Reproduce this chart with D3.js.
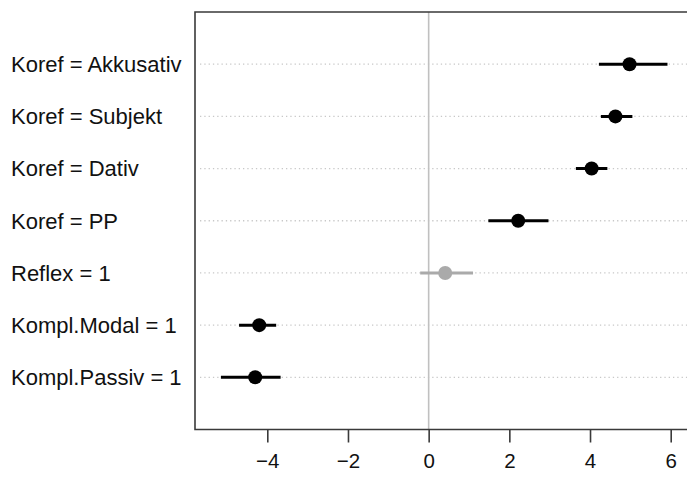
<!DOCTYPE html>
<html>
<head>
<meta charset="utf-8">
<script src="https://cdn.jsdelivr.net/npm/d3@7"></script>
<style>
  html, body { margin: 0; padding: 0; background: #fff; }
  svg { display: block; font-family: "Liberation Sans", Arial, Helvetica, sans-serif; }
</style>
</head>
<body>
<svg id="chart" width="687" height="477"></svg>
<script>
// Coefficient estimates with interval bounds
const terms = ["Koref = Akkusativ", "Koref = Subjekt", "Koref = Dativ", "Koref = PP",
               "Reflex = 1", "Kompl.Modal = 1", "Kompl.Passiv = 1"];
const estimates = [4.98, 4.63, 4.04, 2.22, 0.41, -4.20, -4.30];
const lower     = [4.22, 4.27, 3.65, 1.48, -0.21, -4.70, -5.15];
const upper     = [5.92, 5.05, 4.43, 2.97, 1.10, -3.78, -3.67];
const significant = [true, true, true, true, false, true, true];
const xTicks = [-4, -2, 0, 2, 4, 6];

const W = 687, H = 477;
const box = { left: 195, top: 12, right: 720, bottom: 429.5 };

const svg = d3.select("#chart");

const x = d3.scaleLinear().domain([-4, 6]).range([267.3, 670.7]);
const y = d3.scalePoint().domain(terms).range([box.top, box.bottom]).padding(1);

const rows = terms.map((t, i) => ({
  term: t, est: estimates[i], lo: lower[i], hi: upper[i], sig: significant[i]
}));

// dotted guide lines per row
svg.append("g").selectAll("line").data(rows).join("line")
  .attr("x1", box.left + 5).attr("x2", W)
  .attr("y1", d => y(d.term)).attr("y2", d => y(d.term))
  .attr("stroke", "#c8c8c8").attr("stroke-width", 1.3)
  .attr("stroke-dasharray", "1.3,3");

// zero reference line
svg.append("line")
  .attr("x1", x(0)).attr("x2", x(0))
  .attr("y1", box.top).attr("y2", box.bottom)
  .attr("stroke", "#c0c0c0").attr("stroke-width", 1.6);

// plot frame
svg.append("path")
  .attr("d", `M${box.right},${box.top}H${box.left}V${box.bottom}H${box.right}`)
  .attr("fill", "none").attr("stroke", "#3a3a3a").attr("stroke-width", 1.6);

// intervals and points
const marks = svg.append("g");
marks.selectAll("line").data(rows).join("line")
  .attr("x1", d => x(d.lo)).attr("x2", d => x(d.hi))
  .attr("y1", d => y(d.term)).attr("y2", d => y(d.term))
  .attr("stroke", d => d.sig ? "#000" : "#aaaaaa")
  .attr("stroke-width", 3);
marks.selectAll("circle").data(rows).join("circle")
  .attr("cx", d => x(d.est)).attr("cy", d => y(d.term)).attr("r", 7)
  .attr("fill", d => d.sig ? "#000" : "#aaaaaa");

// row labels
svg.append("g").selectAll("text").data(rows).join("text")
  .attr("x", 11).attr("y", d => y(d.term) + 7.8)
  .attr("font-size", 22).attr("fill", "#111")
  .text(d => d.term);

// x axis
const axis = d3.axisBottom(x).tickValues(xTicks)
  .tickFormat(d => d < 0 ? "\u2212" + Math.abs(d) : String(d))
  .tickSize(13).tickPadding(11);
const ax = svg.append("g").attr("transform", `translate(0,${box.bottom})`).call(axis);
ax.select(".domain").remove();
ax.selectAll(".tick line").attr("stroke", "#3a3a3a").attr("stroke-width", 1.6);
ax.selectAll(".tick text").attr("font-size", 20.5).attr("fill", "#111")
  .attr("font-family", "Liberation Sans, Arial, sans-serif");
</script>
</body>
</html>
